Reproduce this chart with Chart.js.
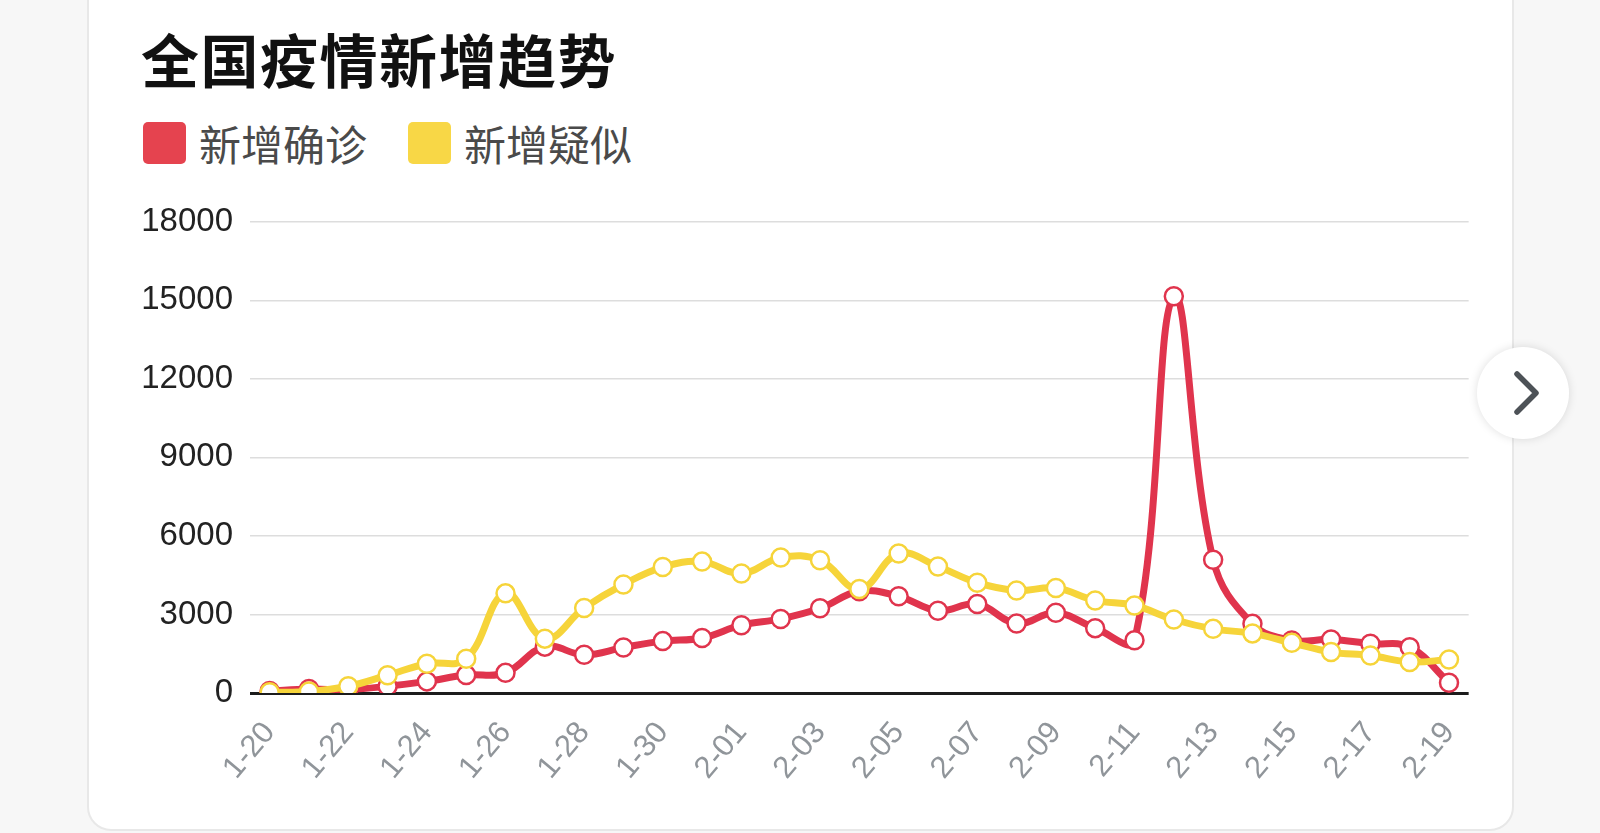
<!DOCTYPE html>
<html>
<head>
<meta charset="utf-8">
<script src="https://cdn.jsdelivr.net/npm/chart.js@4/dist/chart.umd.min.js"></script>
<style>
  html, body { margin: 0; padding: 0; }
  body { width: 1600px; height: 833px; background: #f7f7f7; position: relative; overflow: hidden;
         font-family: "Noto Sans CJK SC", "Noto Sans", sans-serif; }
  .card { position: absolute; left: 87px; top: -30px; width: 1423px; height: 857px;
          background: #fff; border: 2px solid #e8e8e8; border-radius: 24px; }
  .title { position: absolute; left: 141px; top: 26px; font-size: 58px; line-height: 64px;
           font-weight: 700; color: #111; letter-spacing: 1.5px; }
  .legend { position: absolute; left: 143px; top: 121px; display: flex; align-items: center; }
  .legend .item { display: flex; align-items: center; margin-right: 41px; }
  .legend .box { width: 43px; height: 42px; border-radius: 5px; margin-right: 13px; }
  .legend .txt { font-size: 42px; line-height: 44px; color: #4a4a4a; }
  .wrap { position: absolute; left: 100px; top: 185px; width: 1400px; height: 648px; }
  .next { position: absolute; left: 1477px; top: 347px; width: 92px; height: 92px; border-radius: 50%;
          background: #fff; box-shadow: 0 0 10px rgba(0,0,0,0.13); }
</style>
</head>
<body>
<div class="card"></div>
<div class="title">全国疫情新增趋势</div>
<div class="legend" id="legend"></div>
<div class="wrap"><canvas id="myChart"></canvas></div>
<div class="next">
  <svg width="92" height="92" viewBox="0 0 92 92">
    <polyline points="40,27 59,46 40,65" fill="none" stroke="#4d5257" stroke-width="5.5" stroke-linecap="round" stroke-linejoin="round"/>
  </svg>
</div>
<script>
// dates 1-20 .. 2-19
var labels = ['1-20','1-21','1-22','1-23','1-24','1-25','1-26','1-27','1-28','1-29','1-30','1-31',
              '2-01','2-02','2-03','2-04','2-05','2-06','2-07','2-08','2-09','2-10','2-11','2-12',
              '2-13','2-14','2-15','2-16','2-17','2-18','2-19'];
var seriesNames = ['新增确诊', '新增疑似'];
var confirmed = [77, 149, 131, 259, 444, 688, 769, 1771, 1459, 1737, 1982, 2102,
                 2590, 2829, 3235, 3887, 3694, 3143, 3399, 2656, 3062, 2478, 2015, 15152,
                 5090, 2641, 2009, 2048, 1886, 1749, 394];
var suspected = [30, 60, 257, 680, 1118, 1309, 3806, 2077, 3248, 4148, 4812, 5019,
                 4562, 5173, 5072, 3971, 5328, 4833, 4214, 3916, 4008, 3536, 3342, 2807,
                 2450, 2277, 1918, 1563, 1432, 1185, 1277];
var yTicks = [0, 3000, 6000, 9000, 12000, 15000, 18000];

var red = '#e0344d';
var yellow = '#f6d43a';

// legend
var legendColors = ['#e5434f', '#f8d746'];
var legendEl = document.getElementById('legend');
seriesNames.forEach(function(name, i) {
    var item = document.createElement('div');
    item.className = 'item';
    item.innerHTML = '<div class="box" style="background:' + legendColors[i] + '"></div><div class="txt">' + name + '</div>';
    legendEl.appendChild(item);
});

var ctx = document.getElementById('myChart').getContext('2d');
var myChart = new Chart(ctx, {
    type: 'line',
    data: {
        labels: labels,
        datasets: [{
            label: seriesNames[0],
            data: confirmed,
            borderColor: red,
            borderWidth: 7,
            pointRadius: 9,
            pointBorderWidth: 2.5,
            pointBackgroundColor: '#fff',
            pointBorderColor: red,
            tension: 0.4,
            order: 1
        }, {
            label: seriesNames[1],
            data: suspected,
            borderColor: yellow,
            borderWidth: 7,
            pointRadius: 9,
            pointBorderWidth: 2.5,
            pointBackgroundColor: '#fff',
            pointBorderColor: yellow,
            tension: 0.4,
            order: 0
        }]
    },
    options: {
        responsive: true,
        maintainAspectRatio: false,
        animation: false,
        layout: { padding: { top: 26, right: 31, left: 0, bottom: 0 } },
        plugins: { legend: { display: false }, tooltip: { enabled: false } },
        scales: {
            x: {
                offset: true,
                grid: { display: false, drawTicks: false },
                border: { display: false },
                ticks: {
                    autoSkip: false,
                    minRotation: 50,
                    maxRotation: 50,
                    padding: 22,
                    color: '#90959a',
                    font: { family: 'Liberation Sans, Arial, sans-serif', size: 31 },
                    callback: function(val, idx) { return idx % 2 === 0 ? labels[idx] : ''; }
                },
                afterFit: function(scale) { scale.height = 140; }
            },
            y: {
                min: 0,
                max: 18000,
                afterBuildTicks: function(scale) { scale.ticks = yTicks.map(function(v) { return { value: v }; }); },
                grid: {
                    drawTicks: false,
                    color: function(c) { return c.tick && c.tick.value === 0 ? '#1c1c1c' : '#dddddd'; },
                    lineWidth: function(c) { return c.tick && c.tick.value === 0 ? 3 : 1.5; }
                },
                border: { display: false },
                ticks: {
                    padding: 17,
                    color: '#222',
                    font: { family: 'Liberation Sans, Arial, sans-serif', size: 33 },
                    callback: function(v) { return String(v); }
                },
                afterFit: function(scale) { scale.width = 150; }
            }
        }
    }
});
</script>
</body>
</html>
